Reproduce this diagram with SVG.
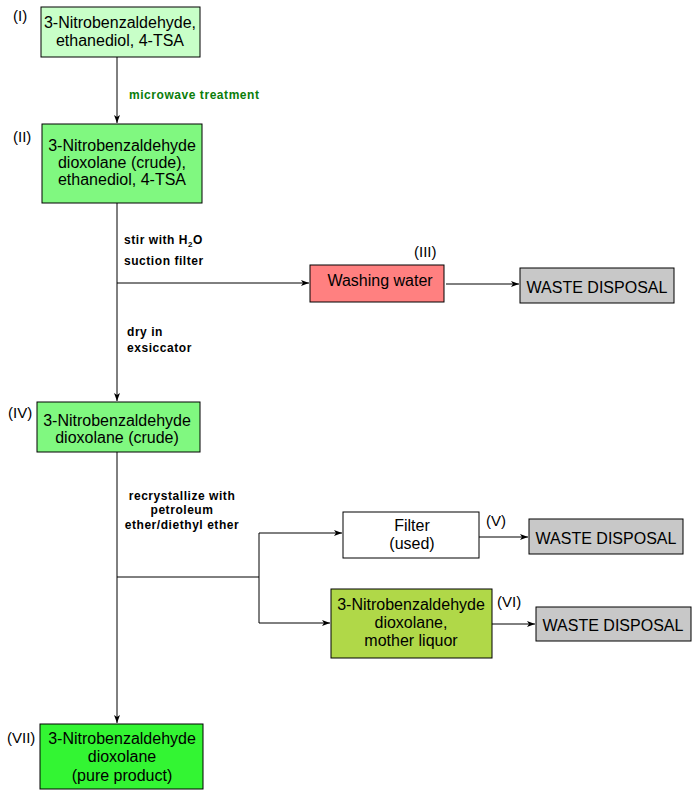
<svg xmlns="http://www.w3.org/2000/svg" width="700" height="800" viewBox="0 0 700 800">
<style>
.box{stroke:#000;stroke-width:1}
.t{font-family:"Liberation Sans",Arial,sans-serif;font-size:16px;fill:#000;text-anchor:middle}
.lab{font-family:"Liberation Sans",Arial,sans-serif;font-size:15px;fill:#000}
.op{font-family:"Liberation Sans",Arial,sans-serif;font-size:12px;font-weight:bold;letter-spacing:0.55px;fill:#000}
.line{stroke:#000;stroke-width:1;fill:none}
</style>
<defs>
<marker id="arr" markerWidth="9" markerHeight="7" refX="8" refY="3.5" orient="auto" markerUnits="userSpaceOnUse">
<path d="M0,0.5 L8,3.5 L0,6.5 L2,3.5 z" fill="#000"/>
</marker>
</defs>
<rect width="700" height="800" fill="#fff"/>
<g id="connectors">
<line class="line" x1="117" y1="57" x2="117" y2="123" marker-end="url(#arr)"/>
<line class="line" x1="117" y1="203" x2="117" y2="401" marker-end="url(#arr)"/>
<line class="line" x1="117" y1="283" x2="309" y2="283" marker-end="url(#arr)"/>
<line class="line" x1="446" y1="284" x2="519" y2="284" marker-end="url(#arr)"/>
<line class="line" x1="117" y1="452" x2="117" y2="723" marker-end="url(#arr)"/>
<polyline class="line" points="117,577 259,577"/>
<polyline class="line" points="259,533 259,623"/>
<line class="line" x1="259" y1="533" x2="342" y2="533" marker-end="url(#arr)"/>
<line class="line" x1="259" y1="623" x2="330" y2="623" marker-end="url(#arr)"/>
<line class="line" x1="479" y1="537" x2="528" y2="537" marker-end="url(#arr)"/>
<line class="line" x1="492" y1="624" x2="535" y2="624" marker-end="url(#arr)"/>
<text class="op" x="129" y="99" style="fill:#0a7d0a">microwave treatment</text>
<text class="op" x="124" y="244">stir with H<tspan font-size="8" dy="3">2</tspan><tspan dy="-3">O</tspan></text>
<text class="op" x="124" y="265">suction filter</text>
<text class="op" x="127" y="336">dry in</text>
<text class="op" x="127" y="352">exsiccator</text>
<text class="op" x="182" y="500" text-anchor="middle">recrystallize with</text>
<text class="op" x="182" y="514" text-anchor="middle">petroleum</text>
<text class="op" x="182" y="529" text-anchor="middle">ether/diethyl ether</text>
</g>
<g id="n1">
<rect class="box" x="41" y="7" width="159" height="50" fill="#C8FFC8"/>
<text class="t" x="120" y="28">3-Nitrobenzaldehyde,</text>
<text class="t" x="120" y="46">ethanediol, 4-TSA</text>
<text class="lab" x="13" y="21">(I)</text>
</g>
<g id="n2">
<rect class="box" x="42" y="124" width="160" height="79" fill="#80F880"/>
<text class="t" x="122" y="151">3-Nitrobenzaldehyde</text>
<text class="t" x="122" y="168">dioxolane (crude),</text>
<text class="t" x="122" y="185">ethanediol, 4-TSA</text>
<text class="lab" x="13" y="142">(II)</text>
</g>
<g id="n3">
<rect class="box" x="310" y="265" width="134" height="37" fill="#FF8080"/>
<text class="t" x="380" y="286">Washing water</text>
<text class="lab" x="414" y="257">(III)</text>
</g>
<g id="n3w">
<rect class="box" x="520" y="268" width="154" height="35" fill="#C8C8C8"/>
<text class="t" x="597" y="293">WASTE DISPOSAL</text>
</g>
<g id="n4">
<rect class="box" x="37" y="402" width="163" height="50" fill="#80F880"/>
<text class="t" x="117" y="426">3-Nitrobenzaldehyde</text>
<text class="t" x="117" y="443">dioxolane (crude)</text>
<text class="lab" x="8" y="418">(IV)</text>
</g>
<g id="n5">
<rect class="box" x="343" y="512" width="136" height="46" fill="#FFFFFF"/>
<text class="t" x="412" y="531">Filter</text>
<text class="t" x="412" y="549">(used)</text>
<text class="lab" x="486" y="526">(V)</text>
</g>
<g id="n5w">
<rect class="box" x="529" y="519" width="154" height="35" fill="#C8C8C8"/>
<text class="t" x="606" y="544">WASTE DISPOSAL</text>
</g>
<g id="n6">
<rect class="box" x="331" y="589" width="161" height="69" fill="#B0D848"/>
<text class="t" x="411" y="610">3-Nitrobenzaldehyde</text>
<text class="t" x="411" y="628">dioxolane,</text>
<text class="t" x="411" y="646">mother liquor</text>
<text class="lab" x="497" y="607">(VI)</text>
</g>
<g id="n6w">
<rect class="box" x="536" y="607" width="155" height="34" fill="#C8C8C8"/>
<text class="t" x="613" y="631">WASTE DISPOSAL</text>
</g>
<g id="n7">
<rect class="box" x="40" y="724" width="163" height="65" fill="#33F533"/>
<text class="t" x="122" y="744">3-Nitrobenzaldehyde</text>
<text class="t" x="122" y="762">dioxolane</text>
<text class="t" x="122" y="781">(pure product)</text>
<text class="lab" x="7" y="743">(VII)</text>
</g>
</svg>
